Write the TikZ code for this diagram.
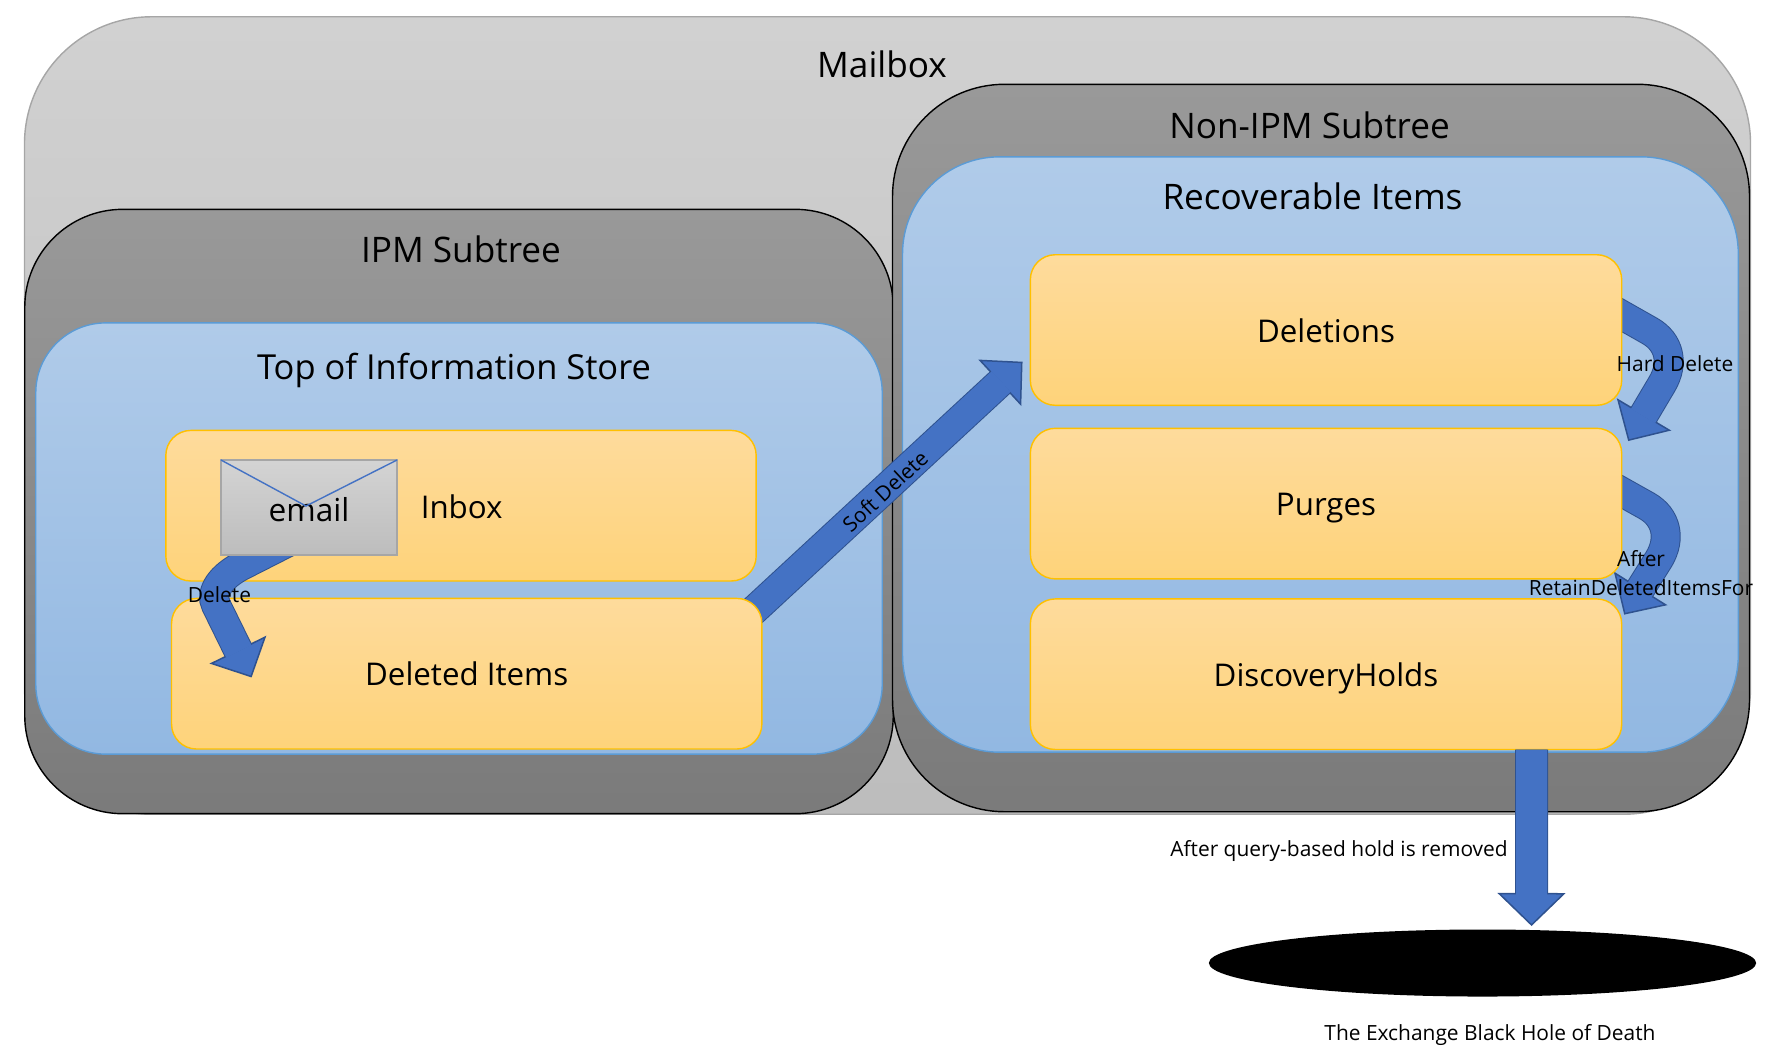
\documentclass[tikz,border=0pt]{standalone}
\usepackage{fontspec}
\setmainfont{Open Sans}
\usepackage{xcolor}
\usepackage{tikz}
\usetikzlibrary{shapes.geometric, positioning, arrows.meta}
\definecolor{arrowblue}{HTML}{4472C4}
\definecolor{arrowedge}{HTML}{2F528F}
\definecolor{paneledge}{HTML}{5B9BD5}
\definecolor{paneltop}{HTML}{B0CBE9}
\definecolor{panelbottom}{HTML}{92B8E2}
\definecolor{boxedge}{HTML}{FFC000}
\definecolor{boxtop}{HTML}{FEDB9C}
\definecolor{boxbottom}{HTML}{FED37A}
\pgfdeclarelayer{panels}
\pgfdeclarelayer{under}
\pgfsetlayers{panels,under,main}
\tikzstyle{panel} = [rectangle, outer sep=0pt, draw=black, top color=black!40, bottom color=black!52]
\tikzstyle{bluepanel} = [rectangle, outer sep=0pt, draw=paneledge, top color=paneltop, bottom color=panelbottom]
\tikzstyle{box} = [rectangle, rounded corners=0.25cm, outer sep=0pt, minimum width=5.91cm, minimum height=1.505cm, text centered, text height=2.4mm, text depth=0pt, draw=boxedge, top color=boxtop, bottom color=boxbottom, font=\fontsize{8.9}{11}\selectfont]
\tikzstyle{title} = [font=\fontsize{10}{12}\selectfont, inner sep=0pt]
\tikzstyle{small} = [font=\fontsize{5.95}{8.2}\selectfont, inner sep=0pt, align=center]
\tikzstyle{blockarrow} = [line width=0.28cm, draw=arrowblue, shorten >=0.29cm, preaction={draw=arrowedge, line width=0.30cm, shorten >=0pt, -{Triangle[length=0.31cm, width=0.63cm, fill=arrowblue, line width=0.015cm]}}]
\tikzstyle{holearrow} = [line width=0.31cm, draw=arrowblue, shorten >=0.31cm, preaction={draw=arrowedge, line width=0.33cm, shorten >=0pt, -{Triangle[length=0.33cm, width=0.68cm, fill=arrowblue, line width=0.015cm]}}]

\begin{document}
\begin{tikzpicture}[x=0.01cm, y=-0.01cm]
	\useasboundingbox (0,0) rectangle (1780,1060);
	\begin{pgfonlayer}{panels}
		\node (Mailbox)[rectangle, outer sep=0pt, draw=black!35, top color=black!18, bottom color=black!26, rounded corners=1.27cm, minimum width=17.25cm, minimum height=7.97cm] at (887.5,415.5) {};
		\node (IPM)[panel, rounded corners=0.98cm, minimum width=8.68cm, minimum height=6.04cm] at (459,511.5) {};
		\node (NonIPM)[panel, rounded corners=1.12cm, minimum width=8.565cm, minimum height=7.27cm] at (1321,448) {};
		\node (TopStore)[bluepanel, rounded corners=0.70cm, minimum width=8.46cm, minimum height=4.31cm] at (459,538.5) {};
		\node (Recoverable)[bluepanel, rounded corners=0.97cm, minimum width=8.353cm, minimum height=5.95cm] at (1320.4,454.5) {};
	\end{pgfonlayer}
	% the boxes
	\node (Inbox)[box, minimum width=5.9cm] at (461,505.7) {};
	\node (Deleted Items)[box, minimum width=5.9cm] at (466.7,673.7) {Deleted Items};
	\node (Deletions)[box] at (1326,330) {Deletions};
	\node (Purges)[box, below = 0.23cm of Deletions] {Purges};
	\node (DiscoveryHolds)[box, below = 0.20cm of Purges] {DiscoveryHolds};
	\node (Hole)[ellipse, fill=black, outer sep=0pt, inner sep=0pt, minimum width=5.47cm, minimum height=0.67cm] at (1482.5,963) {};
	% arrows that come out from behind a box
	\begin{pgfonlayer}{under}
		\draw [blockarrow] ([xshift=-0.167cm, yshift=-0.20cm]Deleted Items.north east) -- ([xshift=-0.078cm, yshift=-0.317cm]Deletions.west);
		\draw [blockarrow] ([xshift=-0.215cm, yshift=-0.48cm]Deletions.north east) -- (1650,331) .. controls (1669.4,342.2) and (1674.2,363.4) .. (1662,384) -- ([xshift=0.065cm, yshift=-0.127cm]Purges.north east);
		\draw [blockarrow] ([xshift=-0.245cm, yshift=-0.497cm]Purges.north east) -- (1647,506) .. controls (1666.4,517.2) and (1671.2,538.4) .. (1659,559) -- ([xshift=0.025cm, yshift=-0.157cm]DiscoveryHolds.north east);
	\end{pgfonlayer}
	\draw [blockarrow] (300,536) -- (243,565) .. controls (220.7,576) and (209.7,592.5) .. (216,605) -- ([xshift=0.80cm, yshift=-0.79cm]Deleted Items.north west);
	\draw [holearrow] ([xshift=-0.90cm]DiscoveryHolds.south east) -- ([xshift=0.49cm, yshift=0.035cm]Hole.north);
	% the envelope
	\node (Email)[rectangle, outer sep=0pt, draw=black!35, top color=black!17, bottom color=black!26, minimum width=1.76cm, minimum height=0.95cm, text height=2.7mm, text depth=0pt, font=\fontsize{9}{11}\selectfont] at (309,507.5) {email};
	\coordinate (Flap) at ([xshift=-0.03cm, yshift=-0.46cm]Email.north);
	\draw [arrowblue] (Email.north west) -- (Flap) -- (Email.north east);
	% labels
	\node (Mailbox Title)[title] at (882,64) {Mailbox};
	\node (NonIPM Title)[title] at (1309.5,125) {Non-IPM Subtree};
	\node (Recoverable Title)[title] at (1312.5,196) {Recoverable Items};
	\node (IPM Title)[title] at (461,249) {IPM Subtree};
	\node (TopStore Title)[title, font=\fontsize{9.8}{12}\selectfont] at (454,370) {Top of Information Store};
	\node (Inbox Title)[title, font=\fontsize{8.9}{11}\selectfont, right = 0.23cm of Email, yshift=0.01cm] {Inbox};
	\node (Delete Label)[small] at (219.5,595) {Delete};
	\node (SoftDelete Label)[small, rotate=43] at (885,491) {Soft Delete};
	\node (HardDelete Label)[small] at (1675,364) {Hard Delete};
	\node (Retain Label)[small] at (1641,573) {After\\RetainDeletedItemsFor};
	\node (Query Label)[small] at (1339,851) {After query-based hold is removed};
	\node (Hole Label)[small] at (1490,1035) {The Exchange Black Hole of Death};
\end{tikzpicture}
\end{document}
